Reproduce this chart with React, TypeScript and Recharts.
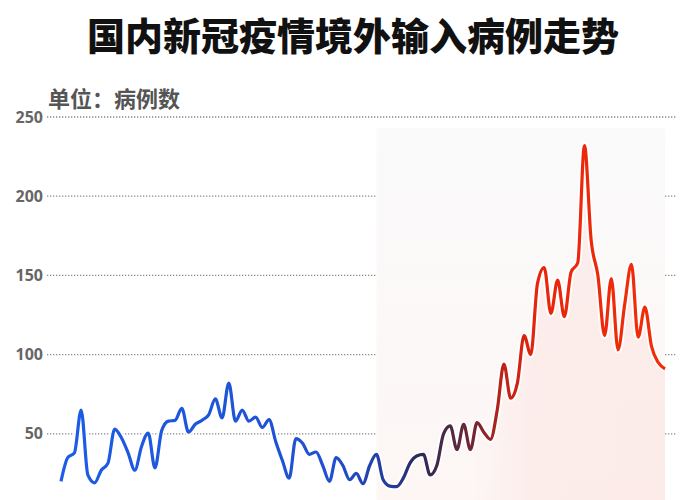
import {
  ComposedChart,
  Line,
  Area,
  XAxis,
  YAxis,
  CartesianGrid,
  ReferenceArea,
} from "recharts";

// daily imported cases
const CASES = [
  20, 35, 38, 65, 24, 19, 27, 31.5, 53, 47.5,
  38, 27, 42, 50.5, 28.5, 52, 58, 58.5, 66, 51,
  56, 58.5, 62, 72, 60, 82, 58, 65, 58, 60.5,
  54, 59, 45, 33, 22, 47, 44, 37, 38.5, 30,
  20, 35, 30, 21, 25, 18.5, 30, 37, 21, 17,
  16.6, 22, 31.5, 36, 37, 24, 30, 50, 55, 40,
  56, 40, 57, 51, 46.5, 65, 94, 72.5, 82, 112,
  100, 145, 155, 126, 147, 124, 152, 158, 232, 172,
  150, 112, 148, 103, 132, 157, 111, 130, 105, 95,
  91,
];
const Y_TICKS = [50, 100, 150, 200, 250];
const TITLE = "国内新冠疫情境外输入病例走势";
const UNIT = "单位：病例数";
// the shaded later period
const SHADE_FROM = 47;
const SHADE_TO = 90;
const SHADE_TOP = 243;

const data = CASES.map((v, i) => ({ day: i, cases: v }));

const TICK_COLOR = "#666";
const GRID_COLOR = "#888";

export default function App() {
  return (
    <div
      style={{
        position: "absolute",
        left: 0,
        top: 0,
        width: 700,
        height: 500,
        overflow: "hidden",
        background: "#fff",
      }}
    >
      <div
        style={{
          position: "absolute",
          left: 0,
          top: 14,
          width: 706,
          textAlign: "center",
          fontFamily: '"Noto Sans CJK SC", sans-serif',
          fontWeight: 900,
          fontSize: 38,
          lineHeight: "40px",
          color: "#111",
        }}
      >
        {TITLE}
      </div>
      <div
        style={{
          position: "absolute",
          left: 48,
          top: 84,
          fontFamily: '"Noto Sans CJK SC", sans-serif',
          fontWeight: 700,
          fontSize: 22,
          lineHeight: "26px",
          color: "#555",
        }}
      >
        {UNIT}
      </div>
      <ComposedChart
        width={700}
        height={513}
        data={data}
        margin={{ top: 117, right: 24, bottom: 0, left: 0 }}
        style={{ position: "absolute", left: 0, top: 0 }}
      >
        <defs>
          <linearGradient id="lineGrad" x1="0" y1="0" x2="1" y2="0">
            <stop offset="0" stopColor="#1c5ce6" />
            <stop offset="0.45" stopColor="#1f50d0" />
            <stop offset="0.55" stopColor="#263a98" />
            <stop offset="0.59" stopColor="#2b2b58" />
            <stop offset="0.64" stopColor="#4a2a45" />
            <stop offset="0.69" stopColor="#7a2530" />
            <stop offset="0.73" stopColor="#bb2218" />
            <stop offset="0.79" stopColor="#ea240c" />
            <stop offset="1" stopColor="#f22e08" />
          </linearGradient>
          <linearGradient id="areaGrad" x1="0" y1="0" x2="1" y2="0">
            <stop offset="0" stopColor="#fbe0dc" stopOpacity={0} />
            <stop offset="0.68" stopColor="#fbe0dc" stopOpacity={0} />
            <stop offset="0.78" stopColor="#fbe0dc" stopOpacity={0.45} />
            <stop offset="1" stopColor="#fbe0dc" stopOpacity={0.5} />
          </linearGradient>
          <linearGradient id="shadeGrad" x1="0" y1="0" x2="0" y2="1">
            <stop offset="0" stopColor="#fafafa" />
            <stop offset="1" stopColor="#fdf6f5" />
          </linearGradient>
        </defs>
        <ReferenceArea
          x1={SHADE_FROM}
          x2={SHADE_TO}
          y1={0}
          y2={SHADE_TOP}
          fill="url(#shadeGrad)"
          fillOpacity={1}
          stroke="none"
          ifOverflow="visible"
        />
        <CartesianGrid
          stroke={GRID_COLOR}
          strokeWidth={1.3}
          strokeDasharray="1.3 1.7"
          vertical={false}
        />
        <XAxis dataKey="day" hide padding={{ left: 14, right: 11 }} />
        <YAxis
          domain={[0, 250]}
          ticks={Y_TICKS}
          width={47}
          axisLine={false}
          tickLine={false}
          tickSize={0}
          tickMargin={4}
          tick={{
            fill: TICK_COLOR,
            fontSize: 16,
            fontWeight: 700,
            fontFamily: '"Noto Sans", sans-serif',
          }}
        />
        <Area
          type="monotone"
          dataKey="cases"
          stroke="none"
          fill="url(#areaGrad)"
          fillOpacity={1}
          isAnimationActive={false}
        />
        <Line
          type="monotone"
          dataKey="cases"
          stroke="#ffffff"
          strokeWidth={7}
          strokeOpacity={0.9}
          dot={false}
          activeDot={false}
          isAnimationActive={false}
        />
        <Line
          type="monotone"
          dataKey="cases"
          stroke="url(#lineGrad)"
          strokeWidth={3.2}
          dot={false}
          activeDot={false}
          isAnimationActive={false}
        />
      </ComposedChart>
    </div>
  );
}
